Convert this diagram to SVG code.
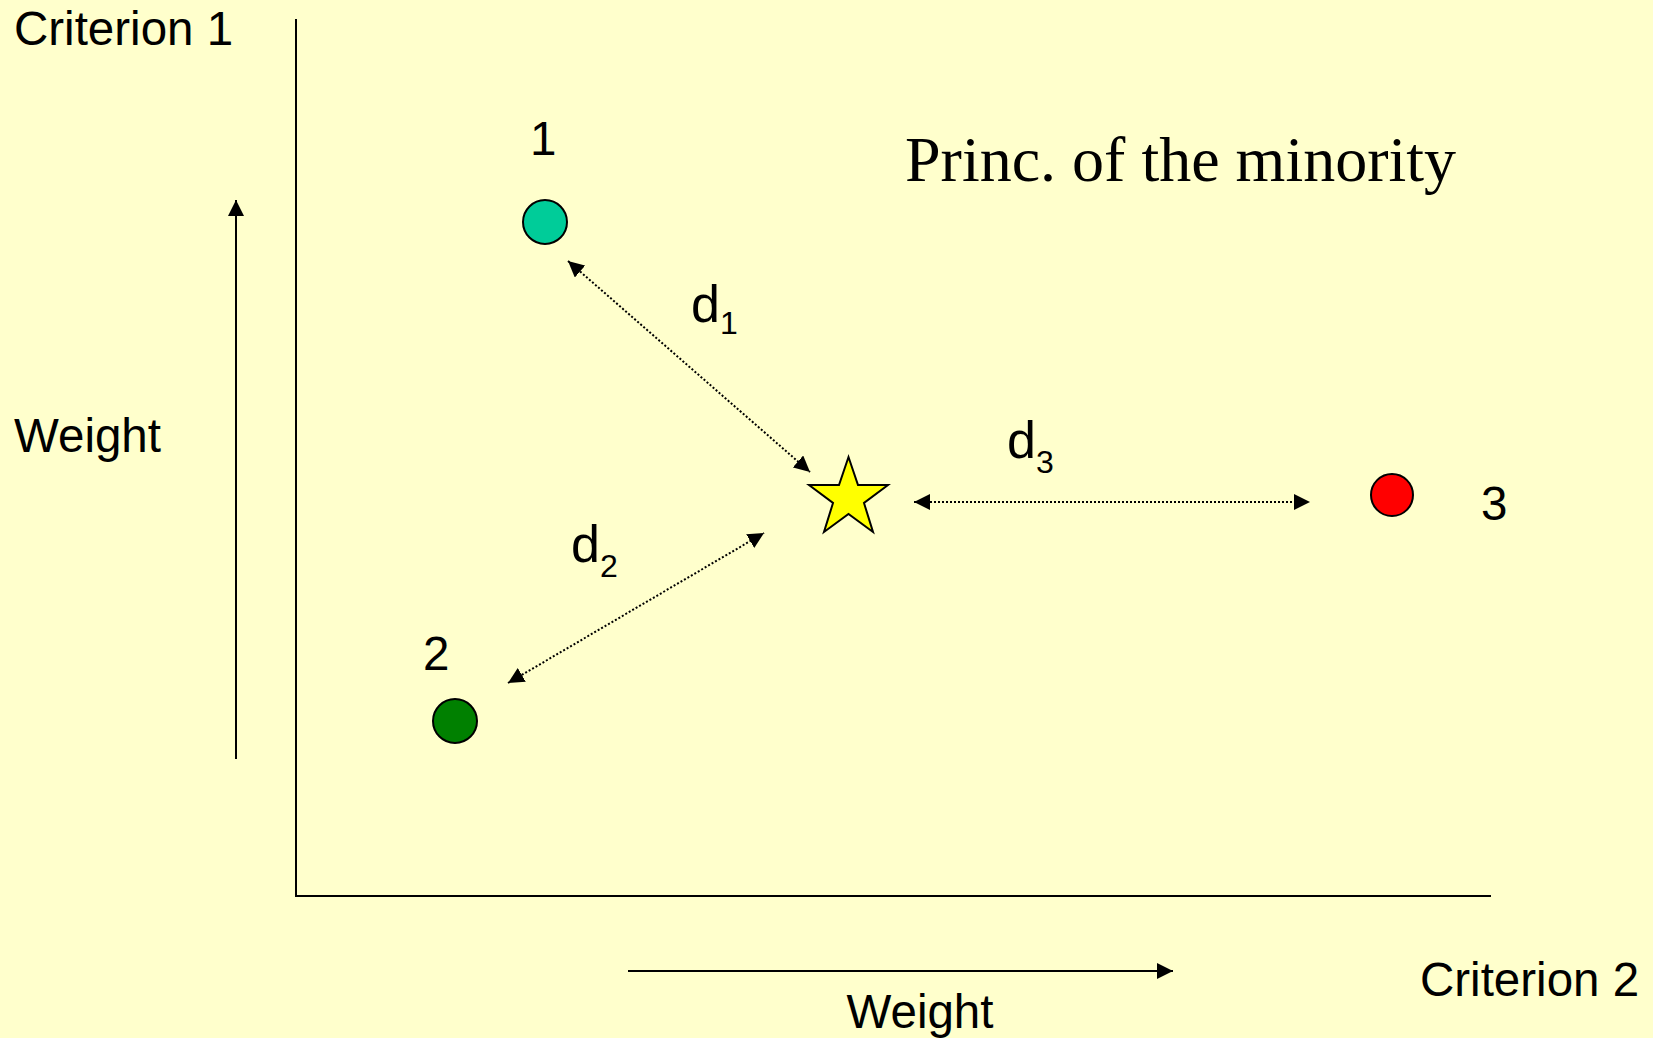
<svg xmlns="http://www.w3.org/2000/svg" width="1653" height="1038" viewBox="0 0 1653 1038">
<style>
.t{font-family:"Liberation Sans",Arial,sans-serif;font-size:47.5px;fill:#000}
.d{font-size:52px}
.s{font-size:32px}
.axis{stroke:#000;stroke-width:2;fill:none}
.dist{stroke:#000;stroke-width:2;stroke-dasharray:2 2;fill:none}
.pt{stroke:#000;stroke-width:2}
</style>
<defs>
<marker id="ah2" viewBox="0 0 10 10" refX="10" refY="5" markerWidth="16" markerHeight="16" orient="auto-start-reverse" markerUnits="userSpaceOnUse">
<path d="M0,0 L10,5 L0,10 z" fill="#000"/>
</marker>
</defs>
<rect width="1653" height="1038" fill="#FFFFCC"/>
<g id="axes">
<path class="axis" d="M296,19 V896 H1491"/>
<line class="axis" x1="236" y1="759" x2="236" y2="200" marker-end="url(#ah2)"/>
<line class="axis" x1="628" y1="971" x2="1173" y2="971" marker-end="url(#ah2)"/>
</g>
<g id="labels">
<text class="t" x="14" y="45">Criterion 1</text>
<text class="t" x="14" y="452">Weight</text>
<text class="t" x="920" y="1028" text-anchor="middle">Weight</text>
<text class="t" x="1420" y="996">Criterion 2</text>
<text x="905" y="181" style="font-family:'Liberation Serif','Times New Roman',serif;font-size:64px">Princ. of the minority</text>
</g>
<g id="connectors">
<line class="dist" x1="568" y1="261" x2="810" y2="472" marker-start="url(#ah2)" marker-end="url(#ah2)"/>
<line class="dist" x1="508" y1="683" x2="764" y2="533" marker-start="url(#ah2)" marker-end="url(#ah2)"/>
<line class="dist" x1="914" y1="502" x2="1310" y2="502" marker-start="url(#ah2)" marker-end="url(#ah2)"/>
</g>
<g id="node1">
<circle class="pt" cx="545" cy="222" r="22" fill="#00CC99"/>
<text class="t" x="530" y="155">1</text>
</g>
<g id="node2">
<circle class="pt" cx="455" cy="721" r="22" fill="#008000"/>
<text class="t" x="423" y="670">2</text>
</g>
<g id="node3">
<circle class="pt" cx="1392" cy="495" r="21" fill="#FF0000"/>
<text class="t" x="1481" y="520">3</text>
</g>
<g id="star">
<polygon class="pt" fill="#FFFF00" points="848.5,457 858,485 888,485 864,503 873,532 848.5,514 824,532 833,503 809,485 839,485"/>
</g>
<g id="dlabels">
<text class="t d" x="691" y="322">d<tspan class="s" dy="12">1</tspan></text>
<text class="t d" x="571" y="562">d<tspan class="s" dy="15">2</tspan></text>
<text class="t d" x="1007" y="458">d<tspan class="s" dy="15">3</tspan></text>
</g>
</svg>
